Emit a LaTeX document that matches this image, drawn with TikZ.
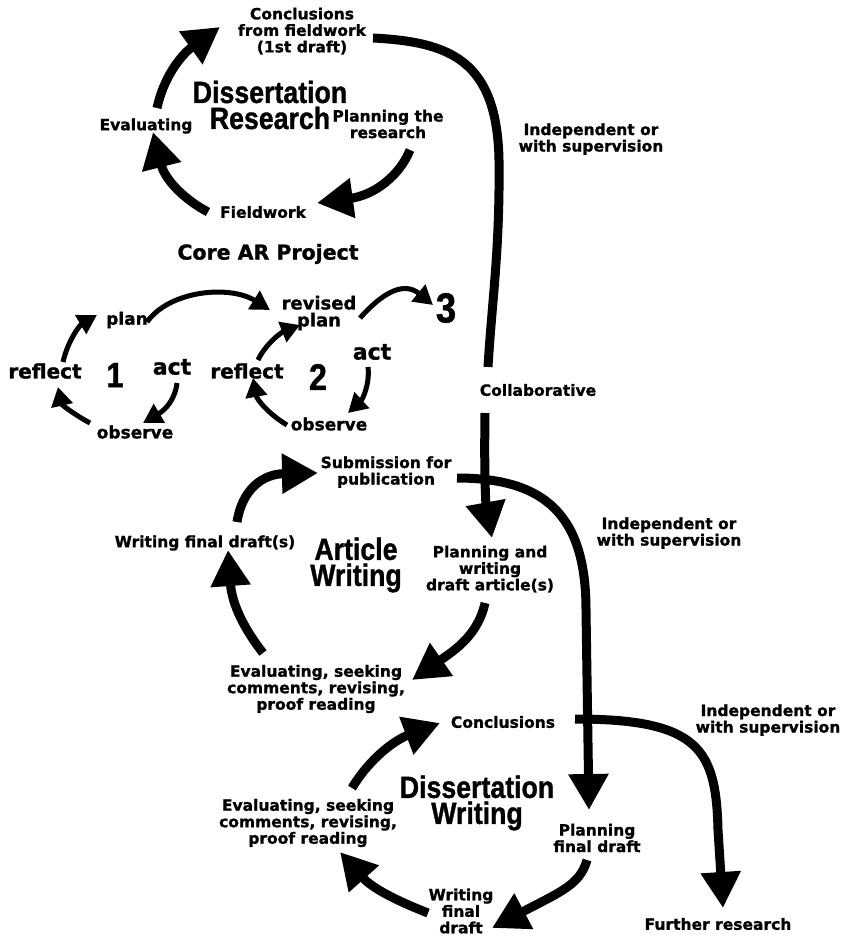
\documentclass[tikz,border=0pt]{standalone}
\usepackage{fontspec}
\usetikzlibrary{arrows.meta}
\newfontfamily\lblfont{DejaVu Sans Bold}[FakeBold=1.2]
\newfontfamily\ttlfont{Liberation Sans Bold}[FakeBold=1.2]
\tikzset{
  lbl/.style={font=\lblfont\fontsize{15.5}{16.5}\selectfont, align=center, inner sep=0pt},
  arlbl/.style={font=\lblfont\fontsize{#1}{#1}\selectfont, align=center, inner sep=0pt},
  ttl/.style={font=\ttlfont\fontsize{30.7}{26}\selectfont, align=center, inner sep=0pt, xscale=0.87},
  digit/.style={font=\ttlfont\fontsize{#1}{#1}\selectfont, inner sep=0pt, xscale=0.87},
  bigarr/.style={line width=9pt, -{Triangle[length=36pt,width=38pt]}},
  longline/.style={line width=9pt},
  smarr/.style={line width=5pt, -{Triangle[length=19pt,width=21pt]}}
}
\begin{document}
\begin{tikzpicture}[x=1pt,y=-1pt]
\useasboundingbox[fill=white] (0,0) rectangle (849,937);
% ---------- Dissertation Research cycle
\node[lbl] (concA) at (302,31) {Conclusions\\from fieldwork\\(1st draft)};
\node[ttl] (titleDR) at (270,105) {Dissertation\\Research};
\node[lbl] (evalA) at (146,126) {Evaluating};
\node[lbl] (planR) at (388,124) {Planning the\\research};
\node[lbl] (field) at (263,212) {Fieldwork};
\node[lbl] (indepA) at (591,139) {Independent or\\with supervision};
\draw[bigarr] ([shift={(11,-18)}]evalA.center) .. controls (165,72) and (185,52) .. ([shift={(-82,-4)}]concA.center);
\draw[bigarr] ([shift={(22,26)}]planR.center) .. controls (400,175) and (375,195) .. ([shift={(54,-9)}]field.center);
\draw[bigarr] ([shift={(-55,0)}]field.center) .. controls (185,200) and (165,180) .. ([shift={(7,6)}]evalA.center);
% ---------- Core AR project
\node[arlbl=20.5] (core) at (268,254) {Core AR Project};
\node[arlbl=17] (planA) at (127,320) {plan};
\node[arlbl=20] (reflA) at (45,371) {reflect};
\node[digit=35] (one) at (115,375) {1};
\node[arlbl=22] (actA) at (172,367) {act};
\node[arlbl=17] (obsA) at (135,432) {observe};
\node[font=\lblfont\fontsize{18}{17}\selectfont, align=center, inner sep=0pt] (revplan) at (319,313) {revised\\plan};
\node[arlbl=20] (reflB) at (247,371) {reflect};
\node[digit=37] (two) at (318,377) {2};
\node[arlbl=22] (actB) at (372,352) {act};
\node[arlbl=17] (obsB) at (329,424) {observe};
\node[digit=42] (three) at (446,308) {3};
\draw[smarr] ([shift={(18,-9)}]reflA.center) .. controls (68,340) and (80,325) .. ([shift={(-30,-5)}]planA.center);
\draw[smarr] ([shift={(5,16)}]actA.center) .. controls (175,400) and (165,410) .. ([shift={(8,-9)}]obsA.center);
\draw[smarr] ([shift={(-45,-9)}]obsA.center) .. controls (75,415) and (62,405) .. ([shift={(13,16)}]reflA.center);
\draw[smarr] ([shift={(20,2)}]planA.center) .. controls (170,290) and (230,285) .. ([shift={(-49,-3)}]revplan.center);
\draw[smarr] ([shift={(11,-11)}]reflB.center) .. controls (265,345) and (280,333) .. ([shift={(-19,12)}]revplan.center);
\draw[smarr] ([shift={(-4,15)}]actB.center) .. controls (370,385) and (362,400) .. ([shift={(19,-11)}]obsB.center);
\draw[smarr] ([shift={(-42,1)}]obsB.center) .. controls (270,415) and (257,400) .. ([shift={(6,7)}]reflB.center);
\draw[smarr] ([shift={(41,5)}]revplan.center) .. controls (385,290) and (405,282) .. ([shift={(-13,-3)}]three.center);
% ---------- long connector 1
\node[lbl] (collab) at (538,390) {Collaborative};
\draw[longline] ([shift={(71,7)}]concA.center) .. controls (450,42) and (497,60) .. (499,160) .. controls (500,250) and (492,300) .. ([shift={(-50,-23)}]collab.center);
% ---------- Article Writing cycle
\node[lbl] (subm) at (386,472) {Submission for\\publication};
\node[ttl] (titleAW) at (356,565) {Article\\Writing};
\node[lbl] (wfd) at (205,543) {Writing final draft(s)};
\node[lbl] (pwd) at (490,569) {Planning and\\writing\\draft article(s)};
\node[lbl] (evalB) at (316,689) {Evaluating, seeking\\comments, revising,\\proof reading};
\node[lbl] (indepB) at (669,533) {Independent or\\with supervision};
\draw[bigarr] ([shift={(-53,23)}]collab.center) .. controls (484,480) and (486,505) .. ([shift={(2,-31)}]pwd.center);
\draw[bigarr] ([shift={(32,-21)}]wfd.center) .. controls (242,490) and (262,474) .. ([shift={(-68,1)}]subm.center);
\draw[bigarr] ([shift={(-5,34)}]pwd.center) .. controls (478,635) and (455,650) .. ([shift={(96,-9)}]evalB.center);
\draw[bigarr] ([shift={(-53,-36)}]evalB.center) .. controls (245,630) and (232,605) .. ([shift={(23,7)}]wfd.center);
% ---------- Dissertation Writing cycle
\node[lbl] (concB) at (503,722) {Conclusions};
\node[lbl] (indepC) at (768,720) {Independent or\\with supervision};
\node[ttl] (titleDW) at (477,803) {Dissertation\\Writing};
\node[lbl] (pfd) at (597,838) {Planning\\final draft};
\node[lbl] (wfdB) at (461,911) {Writing\\final\\draft};
\node[lbl] (evalC) at (308,823) {Evaluating, seeking\\comments, revising,\\proof reading};
\node[lbl] (further) at (718,924) {Further research};
\draw[bigarr] ([shift={(71,6)}]subm.center) .. controls (545,478) and (586,515) .. (586,610) -- ([shift={(-8,-28)}]pfd.center);
\draw[bigarr] ([shift={(72,-3)}]concB.center) .. controls (700,719) and (716,750) .. (718,830) -- ([shift={(5,-16)}]further.center);
\draw[bigarr] ([shift={(44,-35)}]evalC.center) .. controls (370,758) and (395,740) .. ([shift={(-63,1)}]concB.center);
\draw[bigarr] ([shift={(-10,22)}]pfd.center) .. controls (580,885) and (560,892) .. ([shift={(31,17)}]wfdB.center);
\draw[bigarr] ([shift={(-33,2)}]wfdB.center) .. controls (395,900) and (372,888) .. ([shift={(32,29)}]evalC.center);
\end{tikzpicture}
\end{document}
